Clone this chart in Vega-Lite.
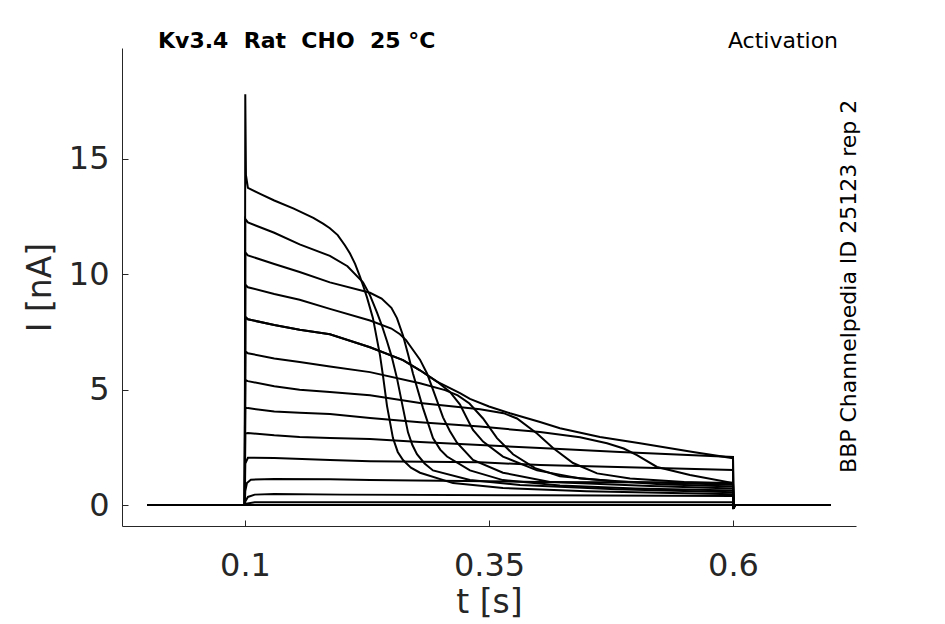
{
  "$schema": "https://vega.github.io/schema/vega-lite/v6.json",
  "width": 734,
  "height": 478,
  "autosize": {"type": "none"},
  "padding": {"left": 122, "top": 48, "right": 89, "bottom": 98},
  "background": "white",
  "datasets": {
    "traces": [
      {"sweep": "T1", "t": 0, "i": 0}, {"sweep": "T1", "t": 0.0998, "i": 0}, {"sweep": "T1", "t": 0.1003, "i": 17.8},
      {"sweep": "T1", "t": 0.101, "i": 14.3}, {"sweep": "T1", "t": 0.103, "i": 13.75}, {"sweep": "T1", "t": 0.115, "i": 13.5},
      {"sweep": "T1", "t": 0.13, "i": 13.2}, {"sweep": "T1", "t": 0.15, "i": 12.85}, {"sweep": "T1", "t": 0.17, "i": 12.45},
      {"sweep": "T1", "t": 0.18, "i": 12.2}, {"sweep": "T1", "t": 0.187, "i": 12.0}, {"sweep": "T1", "t": 0.195, "i": 11.7},
      {"sweep": "T1", "t": 0.2025, "i": 11.25}, {"sweep": "T1", "t": 0.2076, "i": 10.9}, {"sweep": "T1", "t": 0.2128, "i": 10.45},
      {"sweep": "T1", "t": 0.2178, "i": 9.9}, {"sweep": "T1", "t": 0.2215, "i": 9.45}, {"sweep": "T1", "t": 0.225, "i": 9.0},
      {"sweep": "T1", "t": 0.2311, "i": 8.1}, {"sweep": "T1", "t": 0.2383, "i": 6.5}, {"sweep": "T1", "t": 0.2414, "i": 5.6},
      {"sweep": "T1", "t": 0.2455, "i": 4.3}, {"sweep": "T1", "t": 0.2516, "i": 2.9}, {"sweep": "T1", "t": 0.2565, "i": 2.3},
      {"sweep": "T1", "t": 0.2619, "i": 1.95}, {"sweep": "T1", "t": 0.27, "i": 1.62}, {"sweep": "T1", "t": 0.2793, "i": 1.4},
      {"sweep": "T1", "t": 0.3131, "i": 0.95}, {"sweep": "T1", "t": 0.3643, "i": 0.74}, {"sweep": "T1", "t": 0.45, "i": 0.6},
      {"sweep": "T1", "t": 0.6, "i": 0.47}, {"sweep": "T1", "t": 0.6005, "i": -0.15}, {"sweep": "T1", "t": 0.602, "i": 0},
      {"sweep": "T1", "t": 0.7, "i": 0},

      {"sweep": "T2", "t": 0, "i": 0}, {"sweep": "T2", "t": 0.0998, "i": 0}, {"sweep": "T2", "t": 0.1003, "i": 12.4},
      {"sweep": "T2", "t": 0.103, "i": 12.25}, {"sweep": "T2", "t": 0.13, "i": 11.8}, {"sweep": "T2", "t": 0.156, "i": 11.3},
      {"sweep": "T2", "t": 0.187, "i": 10.8}, {"sweep": "T2", "t": 0.205, "i": 10.35}, {"sweep": "T2", "t": 0.2209, "i": 9.65},
      {"sweep": "T2", "t": 0.228, "i": 9.1}, {"sweep": "T2", "t": 0.2352, "i": 8.35}, {"sweep": "T2", "t": 0.2405, "i": 7.75},
      {"sweep": "T2", "t": 0.2455, "i": 7.1}, {"sweep": "T2", "t": 0.2505, "i": 6.4}, {"sweep": "T2", "t": 0.2557, "i": 5.5},
      {"sweep": "T2", "t": 0.2619, "i": 4.2}, {"sweep": "T2", "t": 0.267, "i": 3.15}, {"sweep": "T2", "t": 0.2715, "i": 2.6},
      {"sweep": "T2", "t": 0.2762, "i": 2.2}, {"sweep": "T2", "t": 0.284, "i": 1.8}, {"sweep": "T2", "t": 0.2926, "i": 1.5},
      {"sweep": "T2", "t": 0.3305, "i": 1.08}, {"sweep": "T2", "t": 0.3818, "i": 0.87}, {"sweep": "T2", "t": 0.48, "i": 0.68},
      {"sweep": "T2", "t": 0.6, "i": 0.55}, {"sweep": "T2", "t": 0.6005, "i": -0.15}, {"sweep": "T2", "t": 0.602, "i": 0},
      {"sweep": "T2", "t": 0.7, "i": 0},

      {"sweep": "T3", "t": 0, "i": 0}, {"sweep": "T3", "t": 0.0998, "i": 0}, {"sweep": "T3", "t": 0.1003, "i": 10.95},
      {"sweep": "T3", "t": 0.103, "i": 10.82}, {"sweep": "T3", "t": 0.13, "i": 10.45}, {"sweep": "T3", "t": 0.156, "i": 10.1},
      {"sweep": "T3", "t": 0.187, "i": 9.65}, {"sweep": "T3", "t": 0.2281, "i": 9.2}, {"sweep": "T3", "t": 0.24, "i": 8.95},
      {"sweep": "T3", "t": 0.25, "i": 8.55}, {"sweep": "T3", "t": 0.2557, "i": 8.1}, {"sweep": "T3", "t": 0.2619, "i": 7.35},
      {"sweep": "T3", "t": 0.267, "i": 6.55}, {"sweep": "T3", "t": 0.2721, "i": 5.7}, {"sweep": "T3", "t": 0.2824, "i": 4.2},
      {"sweep": "T3", "t": 0.2926, "i": 2.9}, {"sweep": "T3", "t": 0.3, "i": 2.4}, {"sweep": "T3", "t": 0.307, "i": 2.1},
      {"sweep": "T3", "t": 0.3305, "i": 1.5}, {"sweep": "T3", "t": 0.3643, "i": 1.08}, {"sweep": "T3", "t": 0.4227, "i": 0.85},
      {"sweep": "T3", "t": 0.5, "i": 0.72}, {"sweep": "T3", "t": 0.6, "i": 0.63}, {"sweep": "T3", "t": 0.6005, "i": -0.15},
      {"sweep": "T3", "t": 0.602, "i": 0}, {"sweep": "T3", "t": 0.7, "i": 0},

      {"sweep": "T4", "t": 0, "i": 0}, {"sweep": "T4", "t": 0.0998, "i": 0}, {"sweep": "T4", "t": 0.1003, "i": 9.55},
      {"sweep": "T4", "t": 0.103, "i": 9.44}, {"sweep": "T4", "t": 0.13, "i": 9.15}, {"sweep": "T4", "t": 0.156, "i": 8.9},
      {"sweep": "T4", "t": 0.187, "i": 8.5}, {"sweep": "T4", "t": 0.2281, "i": 8.0}, {"sweep": "T4", "t": 0.25, "i": 7.65},
      {"sweep": "T4", "t": 0.2588, "i": 7.4}, {"sweep": "T4", "t": 0.265, "i": 7.15}, {"sweep": "T4", "t": 0.27, "i": 6.85},
      {"sweep": "T4", "t": 0.2793, "i": 6.3}, {"sweep": "T4", "t": 0.2865, "i": 5.7}, {"sweep": "T4", "t": 0.2926, "i": 5.0},
      {"sweep": "T4", "t": 0.3029, "i": 3.8}, {"sweep": "T4", "t": 0.31, "i": 3.2}, {"sweep": "T4", "t": 0.3172, "i": 2.7},
      {"sweep": "T4", "t": 0.3336, "i": 1.95}, {"sweep": "T4", "t": 0.3643, "i": 1.4}, {"sweep": "T4", "t": 0.4125, "i": 1.0},
      {"sweep": "T4", "t": 0.515, "i": 0.82}, {"sweep": "T4", "t": 0.6, "i": 0.72}, {"sweep": "T4", "t": 0.6005, "i": -0.15},
      {"sweep": "T4", "t": 0.602, "i": 0}, {"sweep": "T4", "t": 0.7, "i": 0},

      {"sweep": "T5", "t": 0, "i": 0}, {"sweep": "T5", "t": 0.0998, "i": 0}, {"sweep": "T5", "t": 0.1003, "i": 8.15},
      {"sweep": "T5", "t": 0.103, "i": 8.05}, {"sweep": "T5", "t": 0.13, "i": 7.8}, {"sweep": "T5", "t": 0.156, "i": 7.6},
      {"sweep": "T5", "t": 0.187, "i": 7.4}, {"sweep": "T5", "t": 0.2281, "i": 6.84}, {"sweep": "T5", "t": 0.2619, "i": 6.28},
      {"sweep": "T5", "t": 0.2793, "i": 5.84}, {"sweep": "T5", "t": 0.2967, "i": 5.35}, {"sweep": "T5", "t": 0.31, "i": 4.9},
      {"sweep": "T5", "t": 0.3203, "i": 4.35}, {"sweep": "T5", "t": 0.3275, "i": 3.75}, {"sweep": "T5", "t": 0.3336, "i": 3.25},
      {"sweep": "T5", "t": 0.3439, "i": 2.75}, {"sweep": "T5", "t": 0.3643, "i": 2.1}, {"sweep": "T5", "t": 0.3992, "i": 1.5},
      {"sweep": "T5", "t": 0.4432, "i": 1.15}, {"sweep": "T5", "t": 0.5252, "i": 0.9}, {"sweep": "T5", "t": 0.6, "i": 0.8},
      {"sweep": "T5", "t": 0.6005, "i": -0.15}, {"sweep": "T5", "t": 0.602, "i": 0}, {"sweep": "T5", "t": 0.7, "i": 0},

      {"sweep": "T5b", "t": 0, "i": 0}, {"sweep": "T5b", "t": 0.0998, "i": 0}, {"sweep": "T5b", "t": 0.1003, "i": 8.15},
      {"sweep": "T5b", "t": 0.103, "i": 8.05}, {"sweep": "T5b", "t": 0.13, "i": 7.8}, {"sweep": "T5b", "t": 0.156, "i": 7.6},
      {"sweep": "T5b", "t": 0.187, "i": 7.4}, {"sweep": "T5b", "t": 0.2281, "i": 6.84}, {"sweep": "T5b", "t": 0.2619, "i": 6.28},
      {"sweep": "T5b", "t": 0.2793, "i": 5.84}, {"sweep": "T5b", "t": 0.2967, "i": 5.35}, {"sweep": "T5b", "t": 0.3203, "i": 4.85},
      {"sweep": "T5b", "t": 0.3305, "i": 4.6}, {"sweep": "T5b", "t": 0.35, "i": 4.27}, {"sweep": "T5b", "t": 0.3715, "i": 3.98},
      {"sweep": "T5b", "t": 0.4023, "i": 3.6}, {"sweep": "T5b", "t": 0.4227, "i": 3.33}, {"sweep": "T5b", "t": 0.4637, "i": 2.95},
      {"sweep": "T5b", "t": 0.5047, "i": 2.68}, {"sweep": "T5b", "t": 0.559, "i": 2.3}, {"sweep": "T5b", "t": 0.6, "i": 2.03},
      {"sweep": "T5b", "t": 0.6005, "i": -0.15}, {"sweep": "T5b", "t": 0.602, "i": 0}, {"sweep": "T5b", "t": 0.7, "i": 0},

      {"sweep": "T6", "t": 0, "i": 0}, {"sweep": "T6", "t": 0.0998, "i": 0}, {"sweep": "T6", "t": 0.1003, "i": 6.65},
      {"sweep": "T6", "t": 0.103, "i": 6.58}, {"sweep": "T6", "t": 0.13, "i": 6.35}, {"sweep": "T6", "t": 0.156, "i": 6.2},
      {"sweep": "T6", "t": 0.187, "i": 6.0}, {"sweep": "T6", "t": 0.2281, "i": 5.76}, {"sweep": "T6", "t": 0.2793, "i": 5.28},
      {"sweep": "T6", "t": 0.305, "i": 4.98}, {"sweep": "T6", "t": 0.318, "i": 4.75}, {"sweep": "T6", "t": 0.33, "i": 4.4},
      {"sweep": "T6", "t": 0.3439, "i": 3.75}, {"sweep": "T6", "t": 0.3582, "i": 2.9}, {"sweep": "T6", "t": 0.3746, "i": 2.2},
      {"sweep": "T6", "t": 0.3972, "i": 1.6}, {"sweep": "T6", "t": 0.4227, "i": 1.25}, {"sweep": "T6", "t": 0.48, "i": 1.02},
      {"sweep": "T6", "t": 0.6, "i": 0.88}, {"sweep": "T6", "t": 0.6005, "i": -0.15}, {"sweep": "T6", "t": 0.602, "i": 0},
      {"sweep": "T6", "t": 0.7, "i": 0},

      {"sweep": "T7", "t": 0, "i": 0}, {"sweep": "T7", "t": 0.0998, "i": 0}, {"sweep": "T7", "t": 0.1003, "i": 5.42},
      {"sweep": "T7", "t": 0.103, "i": 5.37}, {"sweep": "T7", "t": 0.13, "i": 5.15}, {"sweep": "T7", "t": 0.156, "i": 5.0},
      {"sweep": "T7", "t": 0.187, "i": 4.9}, {"sweep": "T7", "t": 0.2281, "i": 4.76}, {"sweep": "T7", "t": 0.2793, "i": 4.42},
      {"sweep": "T7", "t": 0.3408, "i": 4.15}, {"sweep": "T7", "t": 0.365, "i": 3.98}, {"sweep": "T7", "t": 0.3787, "i": 3.75},
      {"sweep": "T7", "t": 0.3992, "i": 3.1}, {"sweep": "T7", "t": 0.4156, "i": 2.47}, {"sweep": "T7", "t": 0.4361, "i": 1.82},
      {"sweep": "T7", "t": 0.4607, "i": 1.37}, {"sweep": "T7", "t": 0.4945, "i": 1.15}, {"sweep": "T7", "t": 0.55, "i": 1.0},
      {"sweep": "T7", "t": 0.6, "i": 0.92}, {"sweep": "T7", "t": 0.6005, "i": -0.15}, {"sweep": "T7", "t": 0.602, "i": 0},
      {"sweep": "T7", "t": 0.7, "i": 0},

      {"sweep": "T8", "t": 0, "i": 0}, {"sweep": "T8", "t": 0.0998, "i": 0}, {"sweep": "T8", "t": 0.1003, "i": 4.22},
      {"sweep": "T8", "t": 0.103, "i": 4.2}, {"sweep": "T8", "t": 0.13, "i": 4.05}, {"sweep": "T8", "t": 0.156, "i": 4.0},
      {"sweep": "T8", "t": 0.187, "i": 3.94}, {"sweep": "T8", "t": 0.2281, "i": 3.77}, {"sweep": "T8", "t": 0.2793, "i": 3.59},
      {"sweep": "T8", "t": 0.3408, "i": 3.4}, {"sweep": "T8", "t": 0.4023, "i": 3.16}, {"sweep": "T8", "t": 0.4432, "i": 2.94},
      {"sweep": "T8", "t": 0.4709, "i": 2.68}, {"sweep": "T8", "t": 0.488, "i": 2.45}, {"sweep": "T8", "t": 0.5016, "i": 2.16},
      {"sweep": "T8", "t": 0.5221, "i": 1.65}, {"sweep": "T8", "t": 0.5559, "i": 1.3}, {"sweep": "T8", "t": 0.6, "i": 0.95},
      {"sweep": "T8", "t": 0.6005, "i": -0.15}, {"sweep": "T8", "t": 0.602, "i": 0}, {"sweep": "T8", "t": 0.7, "i": 0},

      {"sweep": "T9", "t": 0, "i": 0}, {"sweep": "T9", "t": 0.0998, "i": 0}, {"sweep": "T9", "t": 0.1003, "i": 3.1},
      {"sweep": "T9", "t": 0.103, "i": 3.12}, {"sweep": "T9", "t": 0.13, "i": 3.02}, {"sweep": "T9", "t": 0.156, "i": 2.95},
      {"sweep": "T9", "t": 0.187, "i": 2.9}, {"sweep": "T9", "t": 0.2281, "i": 2.86}, {"sweep": "T9", "t": 0.2793, "i": 2.73},
      {"sweep": "T9", "t": 0.3408, "i": 2.6}, {"sweep": "T9", "t": 0.4023, "i": 2.47}, {"sweep": "T9", "t": 0.4842, "i": 2.3},
      {"sweep": "T9", "t": 0.6, "i": 2.08}, {"sweep": "T9", "t": 0.6005, "i": -0.15}, {"sweep": "T9", "t": 0.602, "i": 0},
      {"sweep": "T9", "t": 0.7, "i": 0},

      {"sweep": "T10", "t": 0, "i": 0}, {"sweep": "T10", "t": 0.0998, "i": 0}, {"sweep": "T10", "t": 0.1003, "i": 1.8},
      {"sweep": "T10", "t": 0.103, "i": 2.05}, {"sweep": "T10", "t": 0.13, "i": 2.04}, {"sweep": "T10", "t": 0.187, "i": 1.95},
      {"sweep": "T10", "t": 0.2281, "i": 1.9}, {"sweep": "T10", "t": 0.3408, "i": 1.85}, {"sweep": "T10", "t": 0.4023, "i": 1.73},
      {"sweep": "T10", "t": 0.6, "i": 1.52}, {"sweep": "T10", "t": 0.6005, "i": -0.15}, {"sweep": "T10", "t": 0.602, "i": 0},
      {"sweep": "T10", "t": 0.7, "i": 0},

      {"sweep": "T11", "t": 0, "i": 0}, {"sweep": "T11", "t": 0.0998, "i": 0}, {"sweep": "T11", "t": 0.1003, "i": 0.6},
      {"sweep": "T11", "t": 0.102, "i": 0.95}, {"sweep": "T11", "t": 0.106, "i": 1.1}, {"sweep": "T11", "t": 0.13, "i": 1.13},
      {"sweep": "T11", "t": 0.187, "i": 1.12}, {"sweep": "T11", "t": 0.2281, "i": 1.08}, {"sweep": "T11", "t": 0.4023, "i": 1.0},
      {"sweep": "T11", "t": 0.6, "i": 0.97}, {"sweep": "T11", "t": 0.6005, "i": -0.15}, {"sweep": "T11", "t": 0.602, "i": 0},
      {"sweep": "T11", "t": 0.7, "i": 0},

      {"sweep": "T12", "t": 0, "i": 0}, {"sweep": "T12", "t": 0.0998, "i": 0}, {"sweep": "T12", "t": 0.1003, "i": 0.15},
      {"sweep": "T12", "t": 0.103, "i": 0.35}, {"sweep": "T12", "t": 0.11, "i": 0.45}, {"sweep": "T12", "t": 0.13, "i": 0.48},
      {"sweep": "T12", "t": 0.2, "i": 0.45}, {"sweep": "T12", "t": 0.4, "i": 0.42}, {"sweep": "T12", "t": 0.6, "i": 0.39},
      {"sweep": "T12", "t": 0.6005, "i": -0.15}, {"sweep": "T12", "t": 0.602, "i": 0}, {"sweep": "T12", "t": 0.7, "i": 0},

      {"sweep": "T13", "t": 0, "i": 0}, {"sweep": "T13", "t": 0.0998, "i": 0}, {"sweep": "T13", "t": 0.1003, "i": 0.05},
      {"sweep": "T13", "t": 0.11, "i": 0.12}, {"sweep": "T13", "t": 0.6, "i": 0.12}, {"sweep": "T13", "t": 0.6005, "i": -0.1},
      {"sweep": "T13", "t": 0.602, "i": 0}, {"sweep": "T13", "t": 0.7, "i": 0},

      {"sweep": "T14", "t": 0, "i": 0}, {"sweep": "T14", "t": 0.7, "i": 0}
    ]
  },
  "encoding": {
    "x": {
      "field": "t", "type": "quantitative", "title": "t [s]",
      "scale": {"domain": [-0.026, 0.726], "nice": false, "zero": false},
      "axis": {"values": [0.1, 0.35, 0.6], "format": ".2~f", "labelPadding": 30, "titlePadding": 5}
    },
    "y": {
      "field": "i", "type": "quantitative", "title": "I [nA]",
      "scale": {"domain": [-0.91, 19.81], "nice": false, "zero": false},
      "axis": {"values": [0, 5, 10, 15], "labelPadding": 19, "titlePadding": 11}
    }
  },
  "layer": [
    {
      "data": {"name": "traces"},
      "mark": {"type": "line", "color": "black", "strokeWidth": 2},
      "encoding": {
        "detail": {"field": "sweep", "type": "nominal"},
        "order": {"field": "t", "type": "quantitative"}
      }
    },
    {
      "data": {"values": [{"t": 0.0109, "i": 19.83, "label": "Kv3.4\u00a0\u00a0Rat\u00a0\u00a0CHO\u00a0\u00a025\u00a0°C"}]},
      "mark": {"type": "text", "align": "left", "baseline": "alphabetic", "font": "DejaVu Sans", "fontSize": 22, "fontWeight": "bold", "color": "black"},
      "encoding": {"text": {"field": "label"}}
    },
    {
      "data": {"values": [{"t": 0.7076, "i": 19.83, "label": "Activation"}]},
      "mark": {"type": "text", "align": "right", "baseline": "alphabetic", "font": "DejaVu Sans", "fontSize": 22, "color": "black"},
      "encoding": {"text": {"field": "label"}}
    },
    {
      "data": {"values": [{"t": 0.7189, "i": 9.48, "label": "BBP Channelpedia ID 25123 rep 2"}]},
      "mark": {"type": "text", "align": "center", "baseline": "middle", "angle": 270, "font": "DejaVu Sans", "fontSize": 22, "color": "black"},
      "encoding": {"text": {"field": "label"}}
    }
  ],
  "config": {
    "view": {"stroke": null},
    "axis": {
      "grid": false,
      "domainColor": "#262626", "tickColor": "#262626", "labelColor": "#262626", "titleColor": "#262626",
      "labelFont": "DejaVu Sans", "titleFont": "DejaVu Sans",
      "labelFontSize": 32, "titleFontSize": 33, "titleFontWeight": "normal",
      "tickSize": -6, "domainWidth": 1, "tickWidth": 1
    }
  }
}
